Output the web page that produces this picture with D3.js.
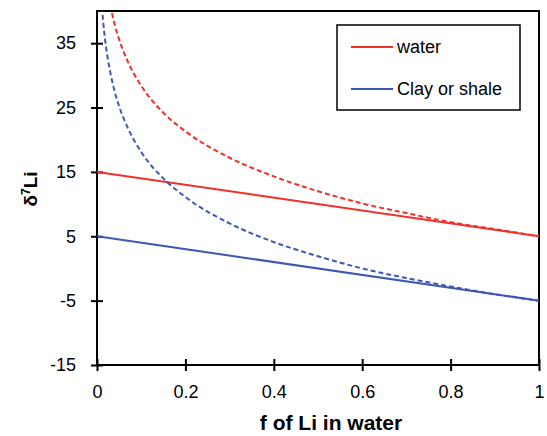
<!DOCTYPE html>
<html><head><meta charset="utf-8">
<script src="https://cdn.jsdelivr.net/npm/d3@7"></script>
<style>body{margin:0;background:#fff;} svg{display:block;}</style>
</head><body>
<svg id="c" width="547" height="436"></svg>
<script>
// Data
const xTicks = [0, 0.2, 0.4, 0.6, 0.8, 1];
const xTickLabels = ["0", "0.2", "0.4", "0.6", "0.8", "1"];
const yTicks = [-15, -5, 5, 15, 25, 35];
const yTickLabels = ["-15", "-5", "5", "15", "25", "35"];

// Solid lines (equilibrium)
const fSolid = [0, 1];
const waterSolid = [15, 5];
const claySolid = [5, -5];

// Dashed lines (Rayleigh)
const fWaterDashed = [0.03, 0.04, 0.05, 0.07, 0.1, 0.15, 0.2, 0.3, 0.4, 0.5, 0.6, 0.7, 0.8, 0.9, 1.0];
const waterDashed  = [40.9, 37.9, 35.6, 32.1, 28.4, 24.2, 21.3, 17.2, 14.3, 12.0, 10.1, 8.6, 7.2, 6.1, 5.0];
const fClayDashed = [0.01, 0.012, 0.015, 0.02, 0.03, 0.04, 0.05, 0.07, 0.1, 0.15, 0.2, 0.3, 0.4, 0.5, 0.6, 0.7, 0.8, 0.9, 1.0];
const clayDashed  = [41.9, 39.9, 37.6, 34.6, 30.5, 27.5, 25.2, 21.8, 18.1, 14.0, 11.1, 7.0, 4.1, 1.9, 0.0, -1.5, -2.8, -4.0, -5.0];

const legendLabels = ["water", "Clay or shale"];
const RED = "#f2302a", BLUE = "#3c58b4";

const svg = d3.select("#c");
const L = 97, R = 539, T = 11, B = 365;
const x = d3.scaleLinear().domain([0, 1]).range([L, R]);
const y = d3.scaleLinear().domain([-15, 40]).range([B, T]);

svg.append("defs").append("clipPath").attr("id", "clip")
  .append("rect").attr("x", L).attr("y", T).attr("width", R - L).attr("height", B - T);

const FONT = "'Liberation Sans', Arial, sans-serif";

// Frame
svg.append("rect").attr("x", L).attr("y", T).attr("width", R - L).attr("height", B - T)
  .attr("fill", "none").attr("stroke", "#000").attr("stroke-width", 2);

// Axes
const yAxis = d3.axisLeft(y).tickValues(yTicks).tickFormat((d, i) => yTickLabels[i])
  .tickSizeInner(6).tickSizeOuter(0).tickPadding(15);
const gy = svg.append("g").attr("transform", `translate(${L},0)`).call(yAxis);
gy.select(".domain").remove();
gy.selectAll(".tick line").attr("x2", 6).attr("x1", -6).attr("stroke", "#000").attr("stroke-width", 2);
gy.selectAll("text").attr("font-family", FONT).attr("font-size", 18).attr("fill", "#000");

const xAxis = d3.axisBottom(x).tickValues(xTicks).tickFormat((d, i) => xTickLabels[i])
  .tickSizeInner(6).tickSizeOuter(0).tickPadding(14);
const gx = svg.append("g").attr("transform", `translate(0,${B})`).call(xAxis);
gx.select(".domain").remove();
gx.selectAll(".tick line").attr("y1", -6).attr("y2", 6).attr("stroke", "#000").attr("stroke-width", 2);
gx.selectAll("text").attr("font-family", FONT).attr("font-size", 18).attr("fill", "#000");

// Lines
const plot = svg.append("g").attr("clip-path", "url(#clip)");
const line = d3.line().x(d => x(d[0])).y(d => y(d[1]));
const smooth = d3.line().x(d => x(d[0])).y(d => y(d[1])).curve(d3.curveMonotoneX);

plot.append("path").datum(fSolid.map((f, i) => [f, waterSolid[i]]))
  .attr("d", line).attr("fill", "none").attr("stroke", RED).attr("stroke-width", 2);
plot.append("path").datum(fSolid.map((f, i) => [f, claySolid[i]]))
  .attr("d", line).attr("fill", "none").attr("stroke", BLUE).attr("stroke-width", 2);
plot.append("path").datum(fWaterDashed.map((f, i) => [f, waterDashed[i]]))
  .attr("d", smooth).attr("fill", "none").attr("stroke", RED).attr("stroke-width", 2)
  .attr("stroke-dasharray", "5,3");
plot.append("path").datum(fClayDashed.map((f, i) => [f, clayDashed[i]]))
  .attr("d", smooth).attr("fill", "none").attr("stroke", BLUE).attr("stroke-width", 2)
  .attr("stroke-dasharray", "5,3");

// Legend
const lg = svg.append("g");
lg.append("rect").attr("x", 337).attr("y", 25).attr("width", 183).attr("height", 85)
  .attr("fill", "#fff").attr("stroke", "#000").attr("stroke-width", 1.5);
[RED, BLUE].forEach((c, i) => {
  const yy = 47 + i * 42;
  lg.append("line").attr("x1", 351).attr("x2", 393).attr("y1", yy).attr("y2", yy)
    .attr("stroke", c).attr("stroke-width", 2);
  lg.append("text").attr("x", 397).attr("y", yy).attr("dy", "0.35em")
    .attr("font-family", FONT).attr("font-size", 18).attr("fill", "#000").text(legendLabels[i]);
});

// Axis titles
svg.append("text").attr("x", 331).attr("y", 430).attr("text-anchor", "middle")
  .attr("font-family", FONT).attr("font-weight", "bold").attr("font-size", 21).attr("fill", "#000")
  .text("f of Li in water");
const yt = svg.append("text").attr("transform", "translate(37,189) rotate(-90)")
  .attr("text-anchor", "middle").attr("font-family", FONT).attr("font-weight", "bold")
  .attr("font-size", 19).attr("fill", "#000");
yt.append("tspan").text("δ");
yt.append("tspan").attr("font-size", 12).attr("dy", -7).text("7");
yt.append("tspan").attr("dy", 7).text("Li");
</script>
</body></html>
